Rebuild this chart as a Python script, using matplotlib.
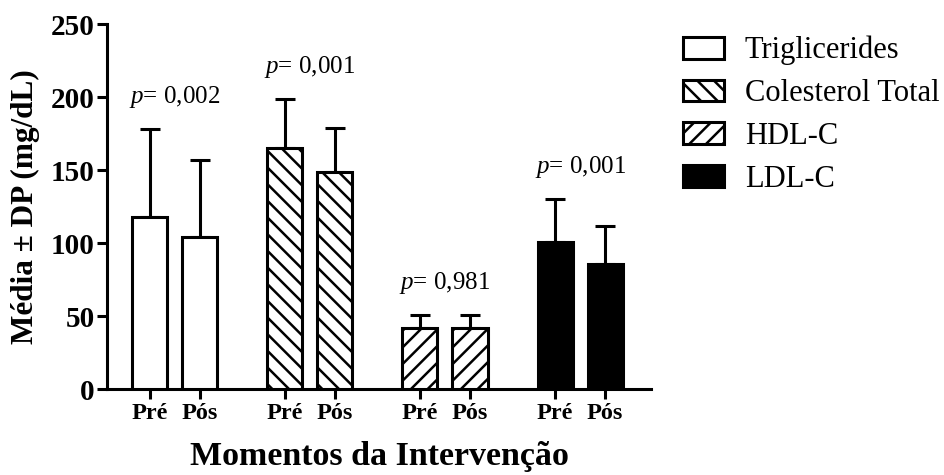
import numpy as np
import matplotlib
matplotlib.use('Agg')
import matplotlib.pyplot as plt
from matplotlib.patches import Patch

# Data
groups = ['Triglicerides', 'Colesterol Total', 'HDL-C', 'LDL-C']
moments = ['Pré', 'Pós']
means = [[118, 104], [165, 149], [42, 42], [101, 86]]
sds = [[60, 53], [34, 30], [9, 9], [29, 26]]
p_values = ['0,002', '0,001', '0,981', '0,001']

plt.rcParams['font.family'] = 'Liberation Serif'
plt.rcParams['mathtext.fontset'] = 'custom'
plt.rcParams['mathtext.it'] = 'Liberation Serif:italic'
plt.rcParams['mathtext.rm'] = 'Liberation Serif'
plt.rcParams['hatch.linewidth'] = 1.8

fig = plt.figure(figsize=(9.45, 4.75), dpi=100)
ax = fig.add_axes([0.113, 0.181, 0.576, 0.768])

styles = [
    dict(facecolor='white', hatch=None),
    dict(facecolor='white', hatch='\\\\'),
    dict(facecolor='white', hatch='//'),
    dict(facecolor='black', hatch=None),
]

width = 0.7
ticks, labels = [], []
for i, g in enumerate(groups):
    base = i * 2.7
    xs = [base, base + 1]
    ax.bar(xs, means[i], width=width, edgecolor='black', linewidth=2.2,
           zorder=3, **styles[i])
    ax.errorbar(xs, means[i], yerr=[[0, 0], sds[i]], fmt='none', ecolor='black',
                elinewidth=2.2, capsize=7.5, capthick=2.2, zorder=2)
    top = max(m + s for m, s in zip(means[i], sds[i]))
    ax.text(base + 0.5, top + 22, r'$p$= ' + p_values[i], ha='center', va='center',
            fontsize=18)
    ticks += xs
    labels += moments

ax.set_xticks(ticks)
ax.set_xticklabels(labels, fontsize=17.5, fontweight='bold')
ax.set_xlim(-0.86, 10.02)
ax.set_ylim(0, 250)
ax.set_yticks(np.arange(0, 251, 50))
ax.tick_params(axis='y', labelsize=21, width=2.2, length=7.2, pad=1.5)
ax.tick_params(axis='x', width=2.2, length=7.2, pad=3)
for lab in ax.get_yticklabels():
    lab.set_fontweight('bold')

for s in ['top', 'right']:
    ax.spines[s].set_visible(False)
for s in ['left', 'bottom']:
    ax.spines[s].set_linewidth(2.2)

ax.set_ylabel('Média ± DP (mg/dL)', fontsize=22.5, fontweight='bold')
ax.yaxis.set_label_coords(-0.122, 0.5)
ax.set_xlabel('Momentos da Intervenção', fontsize=24.5, fontweight='bold', labelpad=12)

handles = [Patch(edgecolor='black', linewidth=2.2, label=g, **styles[i])
           for i, g in enumerate(groups)]
fig.legend(handles=handles, loc='upper left', bbox_to_anchor=(0.71, 0.95),
           frameon=False, fontsize=22, handlelength=1.34, handleheight=0.72,
           labelspacing=0.45, handletextpad=0.68, borderaxespad=0)

fig.savefig('out.png', dpi=100)
